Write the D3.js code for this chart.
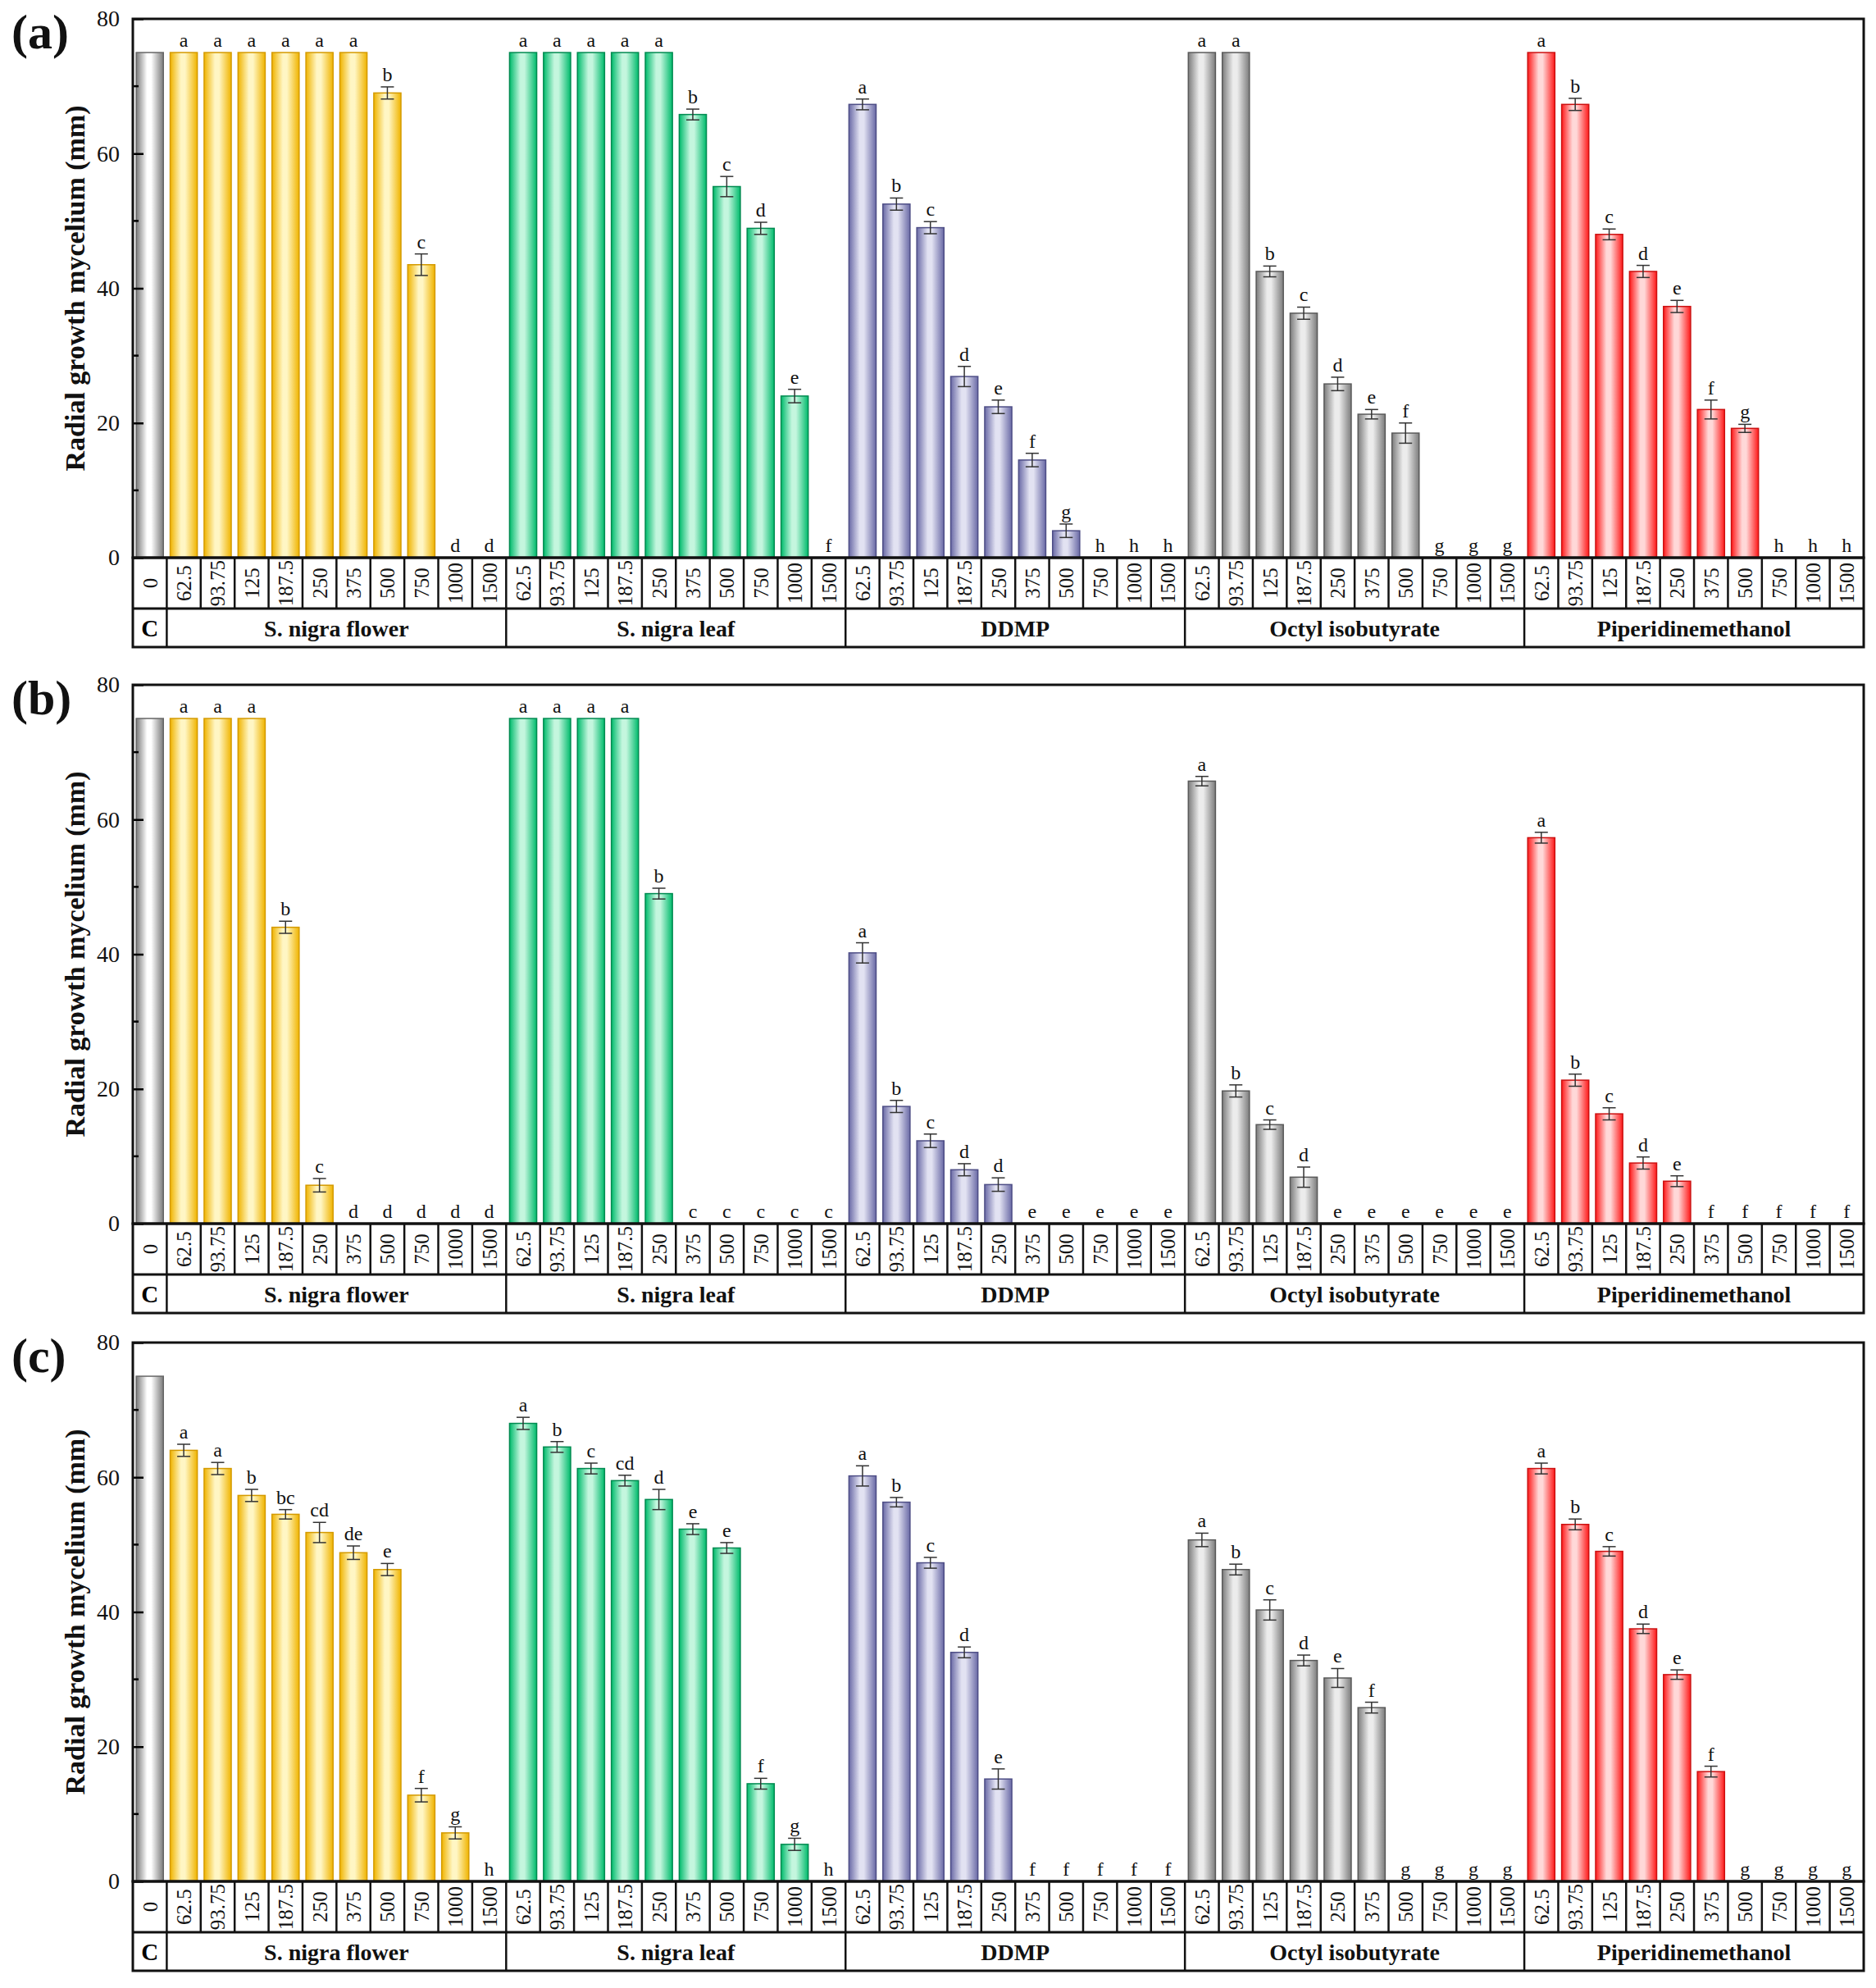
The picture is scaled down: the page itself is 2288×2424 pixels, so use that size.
<!DOCTYPE html>
<html>
<head>
<meta charset="utf-8">
<script src="https://cdn.jsdelivr.net/npm/d3@7"></script>
<style>
  body { margin: 0; background: #fff; }
  text { font-family: "Liberation Serif", "Times New Roman", serif; }
</style>
</head>
<body>
<div id="chart"></div>
<script>
// ---- data ----
var panelLabels = ["(a)", "(b)", "(c)"];
var groups = ["S. nigra flower", "S. nigra leaf", "DDMP", "Octyl isobutyrate", "Piperidinemethanol"];
var concs = ["62.5", "93.75", "125", "187.5", "250", "375", "500", "750", "1000", "1500"];
var controlValues = [75, 75, 75];
var yTicks = [0, 20, 40, 60, 80];

// panel (a): flower, leaf, DDMP, octyl, piper (10 each)
var meansA = [
  75, 75, 75, 75, 75, 75, 69, 43.5, 0, 0,
  75, 75, 75, 75, 75, 65.8, 55.1, 48.9, 24, 0,
  67.3, 52.5, 49, 26.9, 22.4, 14.5, 4, 0, 0, 0,
  75, 75, 42.5, 36.3, 25.8, 21.3, 18.5, 0, 0, 0,
  75, 67.3, 48, 42.5, 37.3, 22, 19.2, 0, 0, 0
];
var sdA = [
  0, 0, 0, 0, 0, 0, 0.9, 1.6, 0, 0,
  0, 0, 0, 0, 0, 0.8, 1.5, 0.9, 1, 0,
  0.8, 0.9, 0.9, 1.5, 1, 1, 1, 0, 0, 0,
  0, 0, 0.8, 0.9, 1, 0.7, 1.5, 0, 0, 0,
  0, 0.9, 0.8, 0.9, 0.9, 1.4, 0.6, 0, 0, 0
];
var lettersA = [
  "a", "a", "a", "a", "a", "a", "b", "c", "d", "d",
  "a", "a", "a", "a", "a", "b", "c", "d", "e", "f",
  "a", "b", "c", "d", "e", "f", "g", "h", "h", "h",
  "a", "a", "b", "c", "d", "e", "f", "g", "g", "g",
  "a", "b", "c", "d", "e", "f", "g", "h", "h", "h"
];

// panel (b)
var meansB = [
  75, 75, 75, 44, 5.7, 0, 0, 0, 0, 0,
  75, 75, 75, 75, 49, 0, 0, 0, 0, 0,
  40.2, 17.4, 12.3, 8, 5.8, 0, 0, 0, 0, 0,
  65.7, 19.7, 14.7, 6.9, 0, 0, 0, 0, 0, 0,
  57.3, 21.3, 16.3, 9, 6.3, 0, 0, 0, 0, 0
];
var sdB = [
  0, 0, 0, 0.9, 1, 0, 0, 0, 0, 0,
  0, 0, 0, 0, 0.8, 0, 0, 0, 0, 0,
  1.5, 0.9, 1, 0.9, 1, 0, 0, 0, 0, 0,
  0.7, 0.9, 0.7, 1.5, 0, 0, 0, 0, 0, 0,
  0.8, 0.9, 0.9, 0.9, 0.8, 0, 0, 0, 0, 0
];
var lettersB = [
  "a", "a", "a", "b", "c", "d", "d", "d", "d", "d",
  "a", "a", "a", "a", "b", "c", "c", "c", "c", "c",
  "a", "b", "c", "d", "d", "e", "e", "e", "e", "e",
  "a", "b", "c", "d", "e", "e", "e", "e", "e", "e",
  "a", "b", "c", "d", "e", "f", "f", "f", "f", "f"
];

// panel (c)
var meansC = [
  64, 61.3, 57.3, 54.5, 51.8, 48.8, 46.3, 12.8, 7.2, 0,
  68, 64.5, 61.3, 59.5, 56.7, 52.3, 49.5, 14.5, 5.5, 0,
  60.2, 56.3, 47.3, 34, 15.2, 0, 0, 0, 0, 0,
  50.7, 46.3, 40.3, 32.8, 30.2, 25.8, 0, 0, 0, 0,
  61.3, 53, 49, 37.5, 30.7, 16.3, 0, 0, 0, 0
];
var sdC = [
  0.9, 0.9, 0.9, 0.7, 1.5, 1, 0.9, 1, 0.9, 0,
  0.9, 0.8, 0.8, 0.8, 1.5, 0.8, 0.8, 0.8, 0.9, 0,
  1.5, 0.7, 0.8, 0.8, 1.5, 0, 0, 0, 0, 0,
  1, 0.8, 1.5, 0.8, 1.4, 0.8, 0, 0, 0, 0,
  0.8, 0.8, 0.7, 0.7, 0.7, 0.8, 0, 0, 0, 0
];
var lettersC = [
  "a", "a", "b", "bc", "cd", "de", "e", "f", "g", "h",
  "a", "b", "c", "cd", "d", "e", "e", "f", "g", "h",
  "a", "b", "c", "d", "e", "f", "f", "f", "f", "f",
  "a", "b", "c", "d", "e", "f", "g", "g", "g", "g",
  "a", "b", "c", "d", "e", "f", "g", "g", "g", "g"
];

var panelMeans = [meansA, meansB, meansC];
var panelSd = [sdA, sdB, sdC];
var panelLetters = [lettersA, lettersB, lettersC];

// ---- layout ----
var W = 2288, H = 2424;
var left = 162, right = 2273;
var panelTops = [23, 835, 1637];
var plotH = 657, rowH1 = 62, rowH2 = 47;

var groupColors = [
  {dark: "#f0b400", light: "#fff6c4", stroke: "#d49a00"},
  {dark: "#00bb6c", light: "#c4f6de", stroke: "#008a50"},
  {dark: "#6a6aa6", light: "#e2e2f2", stroke: "#4e4e86"},
  {dark: "#7c7c7c", light: "#ececec", stroke: "#5a5a5a"},
  {dark: "#ff1a1a", light: "#ffd8d8", stroke: "#cc1010"}
];
var controlColor = {dark: "#7a7a7a", light: "#ffffff", stroke: "#666"};

var svg = d3.select("#chart").append("svg")
  .attr("width", W).attr("height", H);

svg.append("rect").attr("width", W).attr("height", H).attr("fill", "#fff");

var defs = svg.append("defs");
function addGradient(id, c) {
  var g = defs.append("linearGradient").attr("id", id)
    .attr("x1", "0%").attr("x2", "100%").attr("y1", "0%").attr("y2", "0%");
  g.append("stop").attr("offset", "0%").attr("stop-color", c.dark);
  g.append("stop").attr("offset", "40%").attr("stop-color", c.light);
  g.append("stop").attr("offset", "55%").attr("stop-color", c.light);
  g.append("stop").attr("offset", "100%").attr("stop-color", c.dark);
}
addGradient("grad-c", controlColor);
groupColors.forEach(function(c, i) { addGradient("grad-" + i, c); });

// 51 columns: control + 5 groups x 10 concentrations
var colIdx = d3.range(1 + groups.length * concs.length);
var x = d3.scaleBand().domain(colIdx).range([left, right]).padding(0);
var bw = x.bandwidth() * 0.8;

panelLabels.forEach(function(lab, p) {
  var top = panelTops[p];
  var zero = top + plotH;
  var y = d3.scaleLinear().domain([0, 80]).range([zero, top]);
  var g = svg.append("g");

  // bars data
  var bars = [{col: 0, v: controlValues[p], sd: 0, letter: "", grad: "grad-c", stroke: controlColor.stroke}];
  panelMeans[p].forEach(function(v, i) {
    var gi = Math.floor(i / concs.length);
    bars.push({col: i + 1, v: v, sd: panelSd[p][i], letter: panelLetters[p][i],
      grad: "grad-" + gi, stroke: groupColors[gi].stroke});
  });

  g.selectAll("rect.bar").data(bars.filter(function(d) { return d.v > 0; }))
    .enter().append("rect")
    .attr("class", "bar")
    .attr("x", function(d) { return x(d.col) + (x.bandwidth() - bw) / 2; })
    .attr("width", bw)
    .attr("y", function(d) { return y(d.v); })
    .attr("height", function(d) { return zero - y(d.v); })
    .attr("fill", function(d) { return "url(#" + d.grad + ")"; })
    .attr("stroke", function(d) { return d.stroke; })
    .attr("stroke-width", 1.5);

  // error bars
  var eb = g.selectAll("g.err").data(bars.filter(function(d) { return d.sd > 0; }))
    .enter().append("g").attr("class", "err")
    .attr("stroke", "#333").attr("stroke-width", 1.5);
  eb.append("line")
    .attr("x1", function(d) { return x(d.col) + x.bandwidth() / 2; })
    .attr("x2", function(d) { return x(d.col) + x.bandwidth() / 2; })
    .attr("y1", function(d) { return y(d.v + d.sd); })
    .attr("y2", function(d) { return y(d.v - d.sd); });
  [1, -1].forEach(function(s) {
    eb.append("line")
      .attr("x1", function(d) { return x(d.col) + x.bandwidth() / 2 - 8; })
      .attr("x2", function(d) { return x(d.col) + x.bandwidth() / 2 + 8; })
      .attr("y1", function(d) { return y(d.v + s * d.sd); })
      .attr("y2", function(d) { return y(d.v + s * d.sd); });
  });

  // letters
  g.selectAll("text.letter").data(bars.filter(function(d) { return d.letter; }))
    .enter().append("text")
    .attr("class", "letter")
    .attr("x", function(d) { return x(d.col) + x.bandwidth() / 2; })
    .attr("y", function(d) { return y(d.v + d.sd) - 7; })
    .attr("text-anchor", "middle")
    .attr("font-size", 24)
    .attr("fill", "#111")
    .text(function(d) { return d.letter; });

  // y axis with inward ticks
  var yAxis = d3.axisLeft(y).tickValues(yTicks).tickSizeInner(-13).tickSizeOuter(0).tickPadding(16);
  var ya = g.append("g").attr("transform", "translate(" + left + ",0)").call(yAxis);
  ya.select(".domain").remove();
  ya.selectAll("line").attr("stroke", "#000").attr("stroke-width", 2.5);
  ya.selectAll("text").attr("font-size", 28).attr("fill", "#111")
    .attr("font-family", "'Liberation Serif', serif");
  g.selectAll("line.minor").data([10, 30, 50, 70]).enter().append("line")
    .attr("class", "minor")
    .attr("x1", left).attr("x2", left + 7)
    .attr("y1", function(d) { return y(d); }).attr("y2", function(d) { return y(d); })
    .attr("stroke", "#000").attr("stroke-width", 2.5);

  // frame
  g.append("rect")
    .attr("x", left).attr("y", top).attr("width", right - left).attr("height", plotH)
    .attr("fill", "none").attr("stroke", "#111").attr("stroke-width", 3);

  // table: concentration row
  var r1 = zero, r2 = zero + rowH1, r3 = zero + rowH1 + rowH2;
  g.append("rect")
    .attr("x", left).attr("y", r1).attr("width", right - left).attr("height", r3 - r1)
    .attr("fill", "none").attr("stroke", "#111").attr("stroke-width", 3);
  g.append("line").attr("x1", left).attr("x2", right).attr("y1", r2).attr("y2", r2)
    .attr("stroke", "#111").attr("stroke-width", 3);
  g.selectAll("line.cell").data(colIdx.slice(1)).enter().append("line")
    .attr("class", "cell")
    .attr("x1", function(d) { return x(d); }).attr("x2", function(d) { return x(d); })
    .attr("y1", r1).attr("y2", function(d) { return (d - 1) % concs.length === 0 ? r3 : r2; })
    .attr("stroke", "#111").attr("stroke-width", 2.5);

  var cellLabels = ["0"];
  groups.forEach(function() { cellLabels = cellLabels.concat(concs); });
  g.selectAll("text.conc").data(cellLabels).enter().append("text")
    .attr("class", "conc")
    .attr("transform", function(d, i) {
      return "translate(" + (x(i) + x.bandwidth() / 2 + 9) + "," + (r1 + rowH1 / 2) + ") rotate(-90)";
    })
    .attr("text-anchor", "middle")
    .attr("font-size", 25)
    .attr("fill", "#111")
    .text(function(d) { return d; });

  // group row
  g.append("text")
    .attr("x", x(0) + x.bandwidth() / 2).attr("y", r2 + rowH2 / 2 + 10)
    .attr("text-anchor", "middle").attr("font-size", 29).attr("font-weight", "bold")
    .text("C");
  groups.forEach(function(name, gi) {
    var c0 = 1 + gi * concs.length, c1 = c0 + concs.length - 1;
    g.append("text")
      .attr("x", (x(c0) + x(c1) + x.bandwidth()) / 2).attr("y", r2 + rowH2 / 2 + 10)
      .attr("text-anchor", "middle").attr("font-size", 28).attr("font-weight", "bold")
      .attr("fill", "#111")
      .text(name);
  });

  // y label
  g.append("text")
    .attr("transform", "translate(" + 103 + "," + (top + plotH / 2) + ") rotate(-90)")
    .attr("text-anchor", "middle").attr("font-size", 34).attr("font-weight", "bold")
    .attr("fill", "#111")
    .text("Radial growth mycelium (mm)");

  // panel label
  g.append("text")
    .attr("x", 14).attr("y", top + 36)
    .attr("font-size", 60).attr("font-weight", "bold")
    .attr("fill", "#111")
    .text(lab);
});
</script>
</body>
</html>
